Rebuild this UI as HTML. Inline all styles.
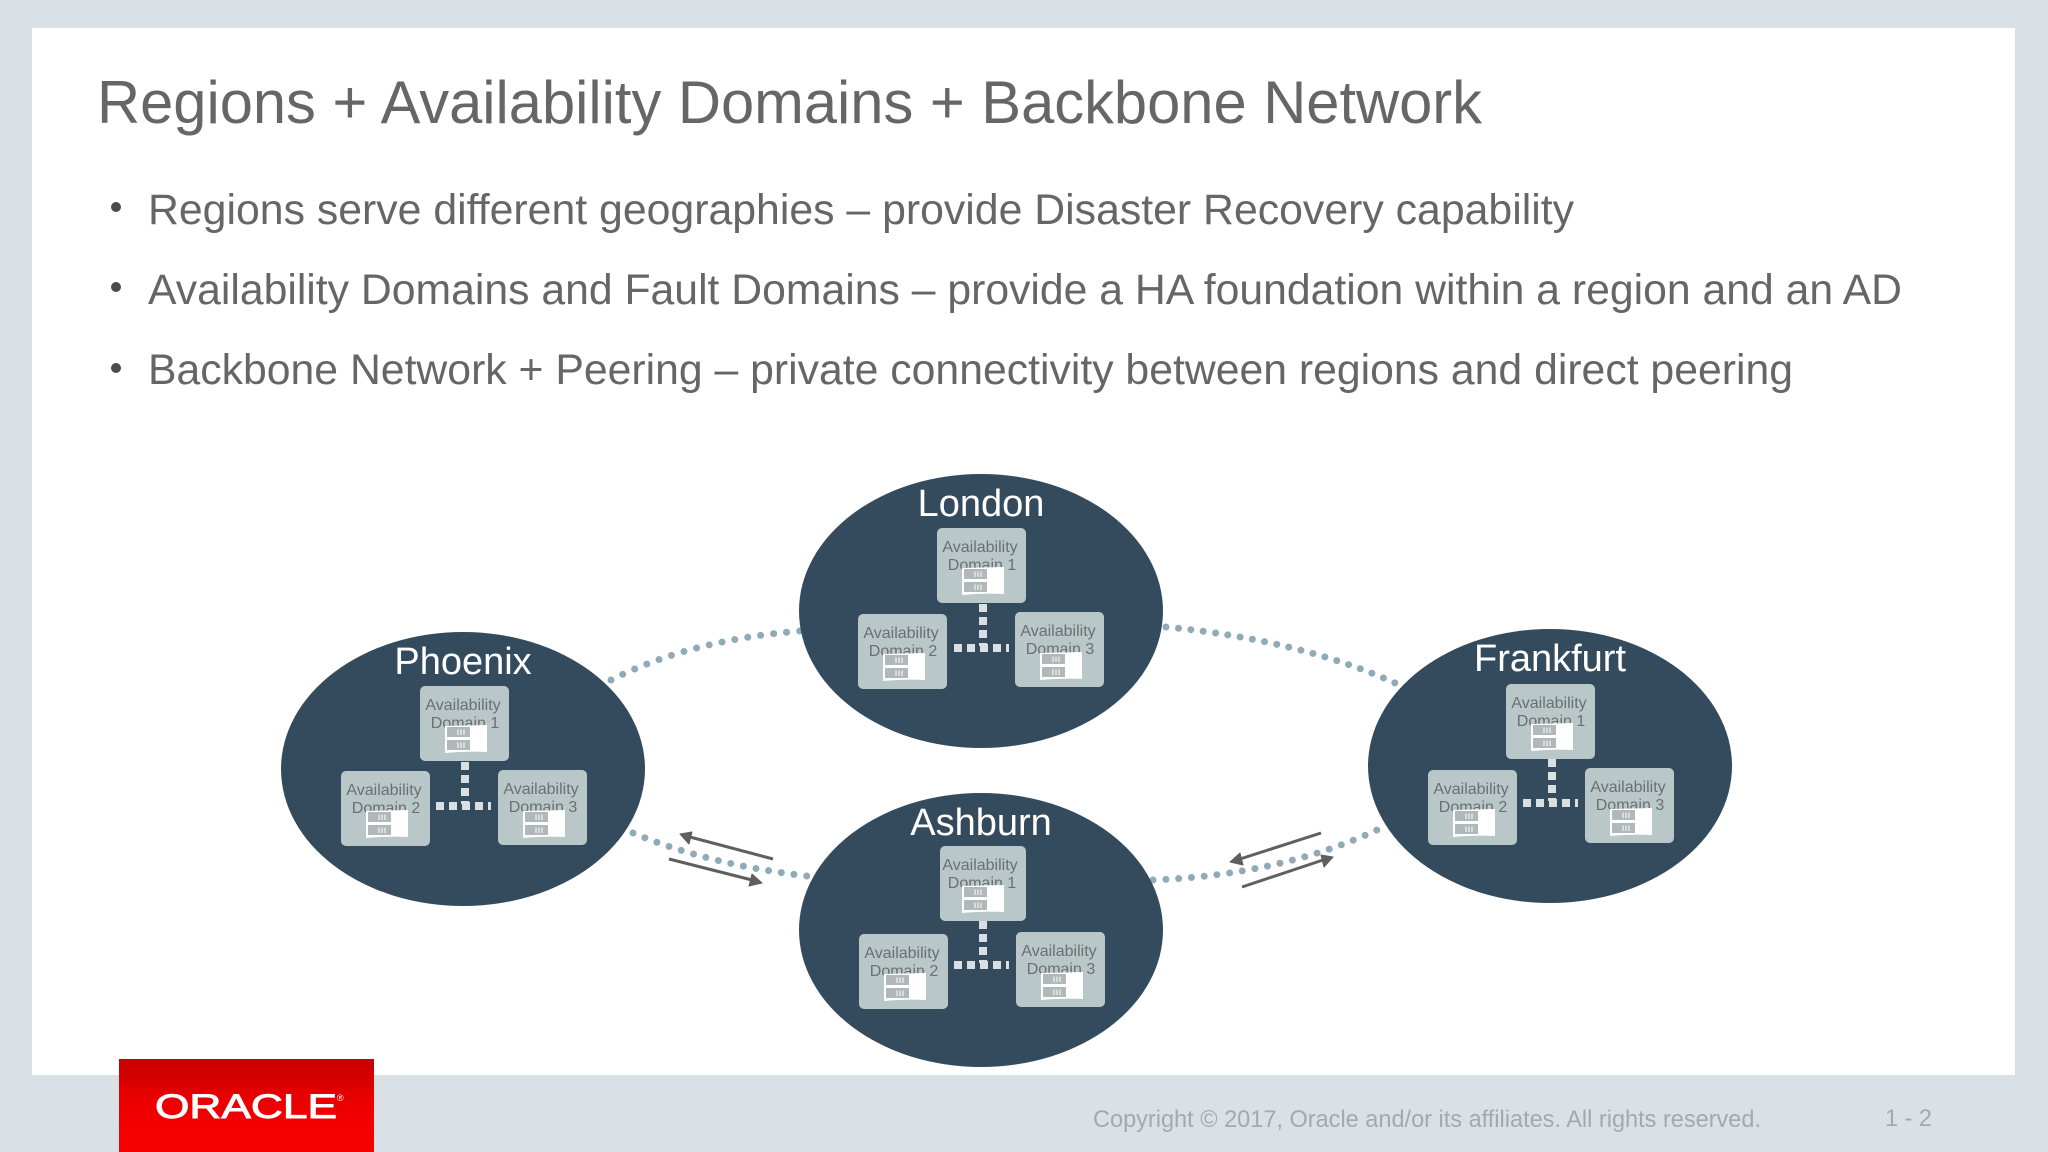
<!DOCTYPE html>
<html><head><meta charset="utf-8"><style>
html,body{margin:0;padding:0;background:#d9e1e6}
svg{display:block}
text{font-family:"Liberation Sans",sans-serif}
.ad text{font-size:16px;fill:#6a7070;text-anchor:middle}
.ct{font-size:38px;fill:#fff;text-anchor:middle}
</style></head><body>
<svg xmlns="http://www.w3.org/2000/svg" width="2048" height="1152" viewBox="0 0 2048 1152">
<defs>
<linearGradient id="r" x1="0" y1="0" x2="0" y2="1"><stop offset="0" stop-color="#c60000"/><stop offset=".5" stop-color="#ee0000"/><stop offset="1" stop-color="#f80000"/></linearGradient>
<g id="ic"><path d="M0 1 42 0V27Q20 26 0 28Z" fill="#fff"/><rect x="2" y="2" width="23" height="10" fill="#b0b8ba"/><rect x="2" y="15" width="23" height="10" fill="#b0b8ba"/><path d="M13 4.500V10M16 4.500V10M19 4.500V10M13 17.500V23M16 17.500V23M19 17.500V23" stroke="#fff" stroke-width="1"/></g>
<g id="lk"><path d="M2 -7V35" stroke="#d8e0e3" stroke-width="8" stroke-dasharray="8 5" fill="none"/><path d="M-27 37H28" stroke="#d8e0e3" stroke-width="8" stroke-dasharray="8 5" fill="none"/></g>
</defs>
<rect width="2048" height="1152" fill="#d9e1e6"/>
<rect x="32" y="28" width="1983" height="1047" fill="#fff"/>
<text x="97" y="123" font-size="60" fill="#666" textLength="1385" lengthAdjust="spacingAndGlyphs">Regions + Availability Domains + Backbone Network</text>
<g fill="#666" font-size="43">
<g fill="#4a4a4a"><circle cx="116" cy="207" r="5"/><circle cx="116" cy="287" r="5"/><circle cx="116" cy="368" r="5"/></g>
<text x="148" y="224" textLength="1426" lengthAdjust="spacingAndGlyphs">Regions serve different geographies – provide Disaster Recovery capability</text>
<text x="148" y="304" textLength="1754" lengthAdjust="spacingAndGlyphs">Availability Domains and Fault Domains – provide a HA foundation within a region and an AD</text>
<text x="148" y="384" textLength="1645" lengthAdjust="spacingAndGlyphs">Backbone Network + Peering – private connectivity between regions and direct peering</text>
</g>
<g fill="none" stroke="#8fabb8" stroke-width="7" stroke-linecap="round" stroke-dasharray="0 1">
<path pathLength="15.02" d="M611 680Q690 640 800 631"/>
<path pathLength="19.02" d="M1166 627Q1300 640 1395 683"/>
<path pathLength="14.02" d="M633 833Q710 865 807 876"/>
<path pathLength="18.02" d="M1153 880Q1280 875 1377 830"/>
</g>
<g stroke="#5f5f5f" stroke-width="3" fill="#5f5f5f">
<path d="M773 859 690 837"/><path d="M680 834 692 832 689 844Z" stroke-width="1" stroke-linejoin="round"/>
<path d="M669 859 752 880"/><path d="M762 883 752 874 749 886Z" stroke-width="1" stroke-linejoin="round"/>
<path d="M1321 833 1240 859"/><path d="M1230 862 1240 853 1243 865Z" stroke-width="1" stroke-linejoin="round"/>
<path d="M1242 887 1323 860"/><path d="M1333 857 1321 855 1324 867Z" stroke-width="1" stroke-linejoin="round"/>
</g>

<g transform="translate(981 611)">
<ellipse rx="182" ry="137" fill="#344b5e"/>
<text class="ct" y="-95">London</text>
<use href="#lk"/>
<g class="ad"><rect x="-44" y="-83" width="89" height="75" rx="5" fill="#b9c7c9"/><text x="-1" y="-59">Availability</text><text x="1" y="-41">Domain 1</text><use href="#ic" x="-19" y="-44"/></g>
<g class="ad"><rect x="-123" y="3" width="89" height="75" rx="5" fill="#b9c7c9"/><text x="-80" y="27">Availability</text><text x="-78" y="45">Domain 2</text><use href="#ic" x="-98" y="42"/></g>
<g class="ad"><rect x="34" y="1" width="89" height="75" rx="5" fill="#b9c7c9"/><text x="77" y="25">Availability</text><text x="79" y="43">Domain 3</text><use href="#ic" x="59" y="41"/></g>
</g>

<g transform="translate(463 769)">
<ellipse rx="182" ry="137" fill="#344b5e"/>
<text class="ct" y="-95">Phoenix</text>
<use href="#lk"/>
<g class="ad"><rect x="-43" y="-83" width="89" height="75" rx="5" fill="#b9c7c9"/><text x="0" y="-59">Availability</text><text x="2" y="-41">Domain 1</text><use href="#ic" x="-18" y="-44"/></g>
<g class="ad"><rect x="-122" y="2" width="89" height="75" rx="5" fill="#b9c7c9"/><text x="-79" y="26">Availability</text><text x="-77" y="44">Domain 2</text><use href="#ic" x="-97" y="41"/></g>
<g class="ad"><rect x="35" y="1" width="89" height="75" rx="5" fill="#b9c7c9"/><text x="78" y="25">Availability</text><text x="80" y="43">Domain 3</text><use href="#ic" x="60" y="41"/></g>
</g>

<g transform="translate(1550 766)">
<ellipse rx="182" ry="137" fill="#344b5e"/>
<text class="ct" y="-95">Frankfurt</text>
<use href="#lk"/>
<g class="ad"><rect x="-44" y="-82" width="89" height="75" rx="5" fill="#b9c7c9"/><text x="-1" y="-58">Availability</text><text x="1" y="-40">Domain 1</text><use href="#ic" x="-19" y="-43"/></g>
<g class="ad"><rect x="-122" y="4" width="89" height="75" rx="5" fill="#b9c7c9"/><text x="-79" y="28">Availability</text><text x="-77" y="46">Domain 2</text><use href="#ic" x="-97" y="43"/></g>
<g class="ad"><rect x="35" y="2" width="89" height="75" rx="5" fill="#b9c7c9"/><text x="78" y="26">Availability</text><text x="80" y="44">Domain 3</text><use href="#ic" x="60" y="42"/></g>
</g>

<g transform="translate(981 930)">
<ellipse rx="182" ry="137" fill="#344b5e"/>
<text class="ct" y="-95">Ashburn</text>
<use href="#lk" y="-2"/>
<g class="ad"><rect x="-41" y="-84" width="86" height="75" rx="5" fill="#b9c7c9"/><text x="-1" y="-60">Availability</text><text x="1" y="-42">Domain 1</text><use href="#ic" x="-19" y="-45"/></g>
<g class="ad"><rect x="-122" y="4" width="89" height="75" rx="5" fill="#b9c7c9"/><text x="-79" y="28">Availability</text><text x="-77" y="46">Domain 2</text><use href="#ic" x="-97" y="43"/></g>
<g class="ad"><rect x="35" y="2" width="89" height="75" rx="5" fill="#b9c7c9"/><text x="78" y="26">Availability</text><text x="80" y="44">Domain 3</text><use href="#ic" x="60" y="42"/></g>
</g>

<rect x="119" y="1059" width="255" height="93" fill="url(#r)"/>
<text x="155" y="1118" font-size="34" fill="#fff" stroke="#fff" stroke-width=".9" textLength="182" lengthAdjust="spacingAndGlyphs">ORACLE</text>
<text x="337" y="1101" font-size="9" fill="#fff">®</text>
<text x="1093" y="1127" font-size="24" fill="#a3aaaf" textLength="668" lengthAdjust="spacingAndGlyphs">Copyright © 2017, Oracle and/or its affiliates. All rights reserved.</text>
<text x="1885" y="1126" font-size="24" fill="#a3aaaf" textLength="47" lengthAdjust="spacingAndGlyphs">1 - 2</text>
</svg>
</body></html>
